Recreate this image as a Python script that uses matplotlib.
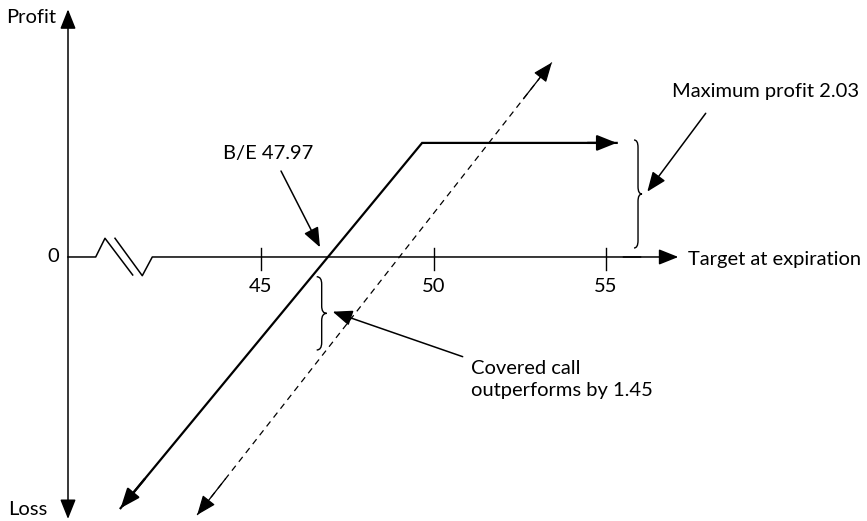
import matplotlib.pyplot as plt
from matplotlib.path import Path
from matplotlib.patches import PathPatch

plt.rcParams["font.family"] = ["Lato", "DejaVu Sans"]

# values (x = stock price at expiration, y = profit)
tick_values = [45, 50, 55]
tick_labels = ["45", "50", "55"]
breakeven = 47.97
max_profit = 2.03
outperform = 1.45

# covered call payoff (schematic, as drawn)
covered_call_x = [40.93, 49.67, 55.31]
covered_call_y = [-4.47, 2.03, 2.03]

# long stock payoff (dashed)
stock_x = [43.15, 53.43]
stock_y = [-4.59, 3.46]

FS = 14.5
HEAD = "-|>,head_length=0.6,head_width=0.24"


def arrow(ax, tip, tail, lw=1.1, frac=None):
    """Arrow from tail to tip; with frac only the last part is drawn."""
    if frac is not None:
        tail = (tip[0] + (tail[0] - tip[0]) * frac, tip[1] + (tail[1] - tip[1]) * frac)
    ax.annotate(
        "",
        xy=tip,
        xytext=tail,
        arrowprops=dict(
            arrowstyle=HEAD,
            color="black",
            lw=lw,
            shrinkA=0,
            shrinkB=0,
            mutation_scale=20,
        ),
    )


def brace(ax, x, y0, y1, w, c):
    """Draw a right-pointing curly brace between y0 and y1."""
    ym = (y0 + y1) / 2
    verts = [
        (x - w, y1), (x, y1), (x, y1 - c),
        (x, ym + c),
        (x, ym), (x + w, ym),
        (x, ym), (x, ym - c),
        (x, y0 + c),
        (x, y0), (x - w, y0),
    ]
    codes = [
        Path.MOVETO, Path.CURVE3, Path.CURVE3,
        Path.LINETO,
        Path.CURVE3, Path.CURVE3,
        Path.CURVE3, Path.CURVE3,
        Path.LINETO,
        Path.CURVE3, Path.CURVE3,
    ]
    ax.add_patch(PathPatch(Path(verts, codes), fill=False, lw=1.0, color="black"))


fig = plt.figure(figsize=(8.67, 5.21), dpi=100)
ax = fig.add_axes([0, 0, 1, 1])
ax.set_xlim(37.435, 62.565)
ax.set_ylim(-4.698, 4.573)
ax.axis("off")

# vertical (profit) axis
ax.annotate(
    "",
    xy=(39.406, 4.407),
    xytext=(39.406, -4.662),
    arrowprops=dict(arrowstyle="<|-|>,head_length=0.6,head_width=0.24",
                    color="black", lw=1.1, shrinkA=0, shrinkB=0, mutation_scale=20),
)

# horizontal axis with break symbol
ax.plot([39.406, 40.209, 40.478, 41.281], [0, 0, 0.333, -0.320], color="black", lw=1.1)
ax.plot([40.768, 41.559, 41.849, 56.0], [0.333, -0.333, 0, 0], color="black", lw=1.1)
arrow(ax, (57.096, 0), (55.5, 0))

for t, lab in zip(tick_values, tick_labels):
    ax.plot([t, t], [0.160, -0.231], color="black", lw=1.0)
    ax.text(t, -0.534, lab, ha="center", va="center", fontsize=FS)

ax.text(38.971, 0, "0", ha="center", va="center", fontsize=FS)
ax.text(37.609, 4.253, "Profit", ha="left", va="center", fontsize=FS)
ax.text(37.667, -4.502, "Loss", ha="left", va="center", fontsize=FS)
ax.text(57.377, -0.036, "Target at expiration", ha="left", va="center", fontsize=FS)

# stock line (dashed, arrows both ends)
ax.plot(stock_x, stock_y, color="black", lw=0.9, dashes=(5, 4))
arrow(ax, (stock_x[0], stock_y[0]), (stock_x[1], stock_y[1]), lw=0.9, frac=0.08)
arrow(ax, (stock_x[1], stock_y[1]), (stock_x[0], stock_y[0]), lw=0.9, frac=0.08)

# covered call payoff
ax.plot(covered_call_x, covered_call_y, color="black", lw=1.6, solid_joinstyle="miter")
arrow(ax, (covered_call_x[0], covered_call_y[0]),
      (covered_call_x[1], covered_call_y[1]), lw=1.6, frac=0.08)
arrow(ax, (covered_call_x[2], covered_call_y[2]),
      (covered_call_x[1], covered_call_y[1]), lw=1.6, frac=0.15)

# break-even label
ax.text(43.899, 1.833, f"B/E {breakeven:.2f}", ha="left", va="center", fontsize=FS)
arrow(ax, (46.710, 0.173), (45.580, 1.530))

# maximum profit
brace(ax, 55.928, 0.160, 2.082, 0.116, 0.13)
ax.text(56.913, 2.936, f"Maximum profit {max_profit:.2f}", ha="left", va="center", fontsize=FS)
arrow(ax, (56.197, 1.162), (57.890, 2.557))

# outperformance
brace(ax, 46.759, -1.655, -0.351, 0.145, 0.13)
ax.text(51.087, -2.18, f"Covered call\noutperforms by {outperform:.2f}",
        ha="left", va="center", fontsize=FS, linespacing=1.35)
arrow(ax, (47.078, -0.973), (50.846, -1.774))

fig.savefig("out.png", dpi=100)
